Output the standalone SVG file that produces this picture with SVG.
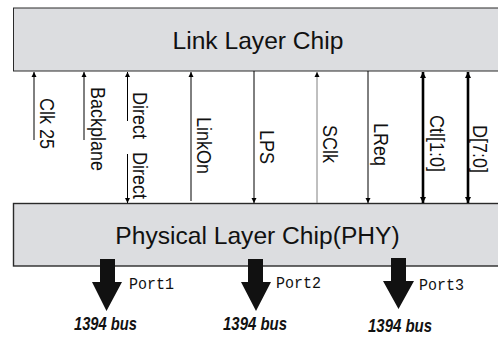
<svg xmlns="http://www.w3.org/2000/svg" width="498" height="337" viewBox="0 0 498 337">
  <defs>
    <marker id="head" viewBox="0 0 10 10" refX="10" refY="5" markerWidth="5" markerHeight="7" markerUnits="userSpaceOnUse" orient="auto-start-reverse">
      <path d="M0,0 L10,5 L0,10 Z" fill="#000"/>
    </marker>
    <marker id="headBold" viewBox="0 0 10 10" refX="10" refY="5" markerWidth="6" markerHeight="7" markerUnits="userSpaceOnUse" orient="auto-start-reverse">
      <path d="M0,0 L10,5 L0,10 Z" fill="#000"/>
    </marker>
  </defs>
  <style>
    .chip { fill: #dcdde0; stroke: #2a2a2a; }
    .title { font-family: "Liberation Sans", Arial, sans-serif; font-size: 24.6px; fill: #111; text-anchor: middle; }
    .sig { font-family: "Liberation Sans", Arial, sans-serif; font-size: 20px; fill: #111; }
    .wire { stroke: #000; stroke-width: 1; fill: none; }
    .gray { stroke: #808080; }
    .bus { stroke: #000; stroke-width: 2.6; fill: none; }
    .port { font-family: "Liberation Mono", "DejaVu Sans Mono", monospace; font-size: 17px; fill: #111; }
    .busname { font-family: "Liberation Sans", Arial, sans-serif; font-size: 18px; font-weight: bold; font-style: italic; fill: #111; }
    .fat { fill: #111; }
  </style>

  <!-- Link layer chip -->
  <g id="link-chip">
    <rect class="chip" x="13.5" y="8" width="500" height="63" stroke-width="1"/>
    <text class="title" x="258" y="48.5">Link Layer Chip</text>
  </g>

  <!-- Physical layer chip -->
  <g id="phy-chip">
    <rect class="chip" x="13.5" y="203.5" width="500" height="62.5" stroke-width="1.4"/>
    <text class="title" x="257.5" y="244">Physical Layer Chip(PHY)</text>
  </g>

  <!-- Signal connectors between the chips -->
  <g id="connectors">
    <line class="wire" x1="34" y1="140" x2="34" y2="72" marker-end="url(#head)"/>
    <line class="wire" x1="84" y1="140" x2="84" y2="72" marker-end="url(#head)"/>
    <line class="wire" x1="127.5" y1="121" x2="127.5" y2="72" marker-end="url(#head)"/>
    <line class="wire" x1="127.5" y1="154" x2="127.5" y2="203" marker-end="url(#head)"/>
    <line class="wire" x1="191" y1="201" x2="191" y2="72" marker-end="url(#head)"/>
    <line class="wire" x1="254" y1="71" x2="254" y2="203" marker-end="url(#head)"/>
    <line class="wire gray" x1="317" y1="203" x2="317" y2="72" marker-end="url(#head)"/>
    <line class="wire" x1="368" y1="71" x2="368" y2="203" marker-end="url(#head)"/>
    <line class="bus" x1="423" y1="72" x2="423" y2="203" marker-start="url(#headBold)" marker-end="url(#headBold)"/>
    <line class="bus" x1="468" y1="72" x2="468" y2="203" marker-start="url(#headBold)" marker-end="url(#headBold)"/>
  </g>

  <!-- Signal names, read top to bottom (narrowed along the reading direction) -->
  <g id="signal-labels">
    <text class="sig" transform="translate(40,98) rotate(90) scale(0.9,1)">Clk 25</text>
    <text class="sig" transform="translate(91,87) rotate(90) scale(0.9,1)">Backplane</text>
    <text class="sig" transform="translate(133,92) rotate(90) scale(0.9,1)">Direct</text>
    <text class="sig" transform="translate(133,152) rotate(90) scale(0.9,1)">Direct</text>
    <text class="sig" transform="translate(196.5,117) rotate(90) scale(0.9,1)">LinkOn</text>
    <text class="sig" transform="translate(260,130) rotate(90) scale(0.9,1)">LPS</text>
    <text class="sig" transform="translate(323,125) rotate(90) scale(0.9,1)">SClk</text>
    <text class="sig" transform="translate(374,123) rotate(90) scale(0.9,1)">LReq</text>
    <text class="sig" transform="translate(430,115) rotate(90) scale(0.9,1)">Ctl[1:0]</text>
    <text class="sig" transform="translate(473,125) rotate(90) scale(0.9,1)">D[7:0]</text>
  </g>

  <!-- Ports to the 1394 bus -->
  <g id="port1">
    <path class="fat" d="M100,259 H115 V282 H122 L106.5,311 L92,282 H100 Z"/>
    <text class="port" x="129" y="289" textLength="45" lengthAdjust="spacingAndGlyphs">Port1</text>
    <text class="busname" x="74" y="330" textLength="63" lengthAdjust="spacingAndGlyphs">1394 bus</text>
  </g>
  <g id="port2">
    <path class="fat" d="M248,259 H263 V282 H271 L256,311 L241,282 H248 Z"/>
    <text class="port" x="276" y="288" textLength="45" lengthAdjust="spacingAndGlyphs">Port2</text>
    <text class="busname" x="223" y="330" textLength="64" lengthAdjust="spacingAndGlyphs">1394 bus</text>
  </g>
  <g id="port3">
    <path class="fat" d="M391,258 H406 V281 H414 L398.5,309 L383,281 H391 Z"/>
    <text class="port" x="419" y="290" textLength="45" lengthAdjust="spacingAndGlyphs">Port3</text>
    <text class="busname" x="368" y="331.5" textLength="64" lengthAdjust="spacingAndGlyphs">1394 bus</text>
  </g>
</svg>
